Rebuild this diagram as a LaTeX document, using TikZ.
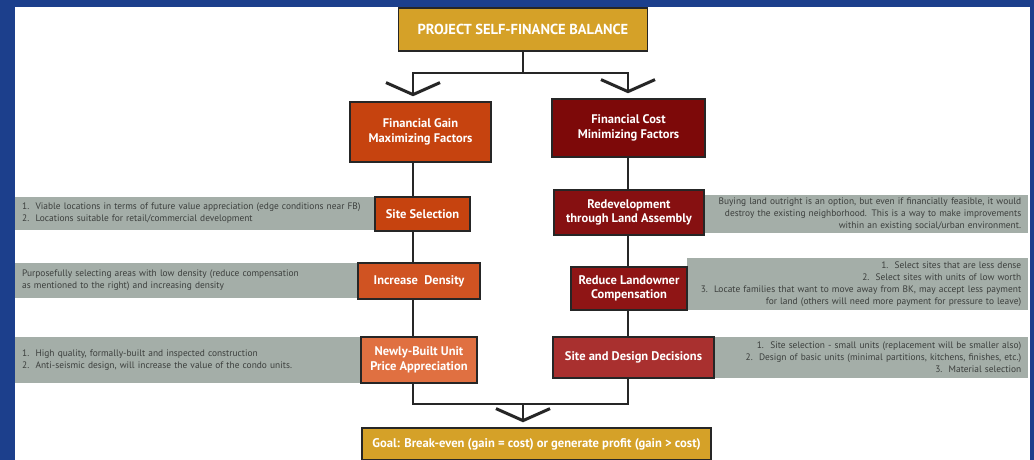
\documentclass[tikz,border=0pt]{standalone}
\usepackage{fontspec}
\setmainfont{PT Sans}
\usetikzlibrary{arrows.meta,backgrounds}
\definecolor{frameblue}{HTML}{1C3F8C}
\definecolor{gold}{HTML}{D5A128}
\definecolor{gainred}{HTML}{C6430F}
\definecolor{densityred}{HTML}{D05322}
\definecolor{unitorange}{HTML}{E07041}
\definecolor{costred}{HTML}{7D0909}
\definecolor{assemblyred}{HTML}{861011}
\definecolor{landred}{HTML}{8F1515}
\definecolor{designred}{HTML}{A9302F}
\definecolor{notegray}{HTML}{A4AEA8}
\definecolor{notetext}{HTML}{3C3F3D}
\begin{document}
\begin{tikzpicture}[x=1pt,y=-1pt,
  box/.style={draw=black!85,line width=1.5pt,text=white,align=center,inner sep=0pt,
    font=\fontsize{12.5}{14.5}\selectfont\bfseries},
  note/.style={fill=notegray,text=notetext,inner xsep=7pt,inner ysep=0pt,
    font=\fontsize{9.4}{12}\selectfont},
  conn/.style={line width=1.6pt,black!85},
  tip/.style={-{Straight Barb[length=12pt,width=54pt,line width=3pt]},shorten >=5pt}]
\useasboundingbox (0,0) rectangle (1034,460);
\begin{scope}[on background layer]
\fill[frameblue] (0,0) rectangle (1034,460);
\fill[white] (15,7) rectangle (1030,460);
\end{scope}
\node[box,fill=gold,minimum width=249pt,minimum height=43pt,font=\fontsize{14.5}{16}\selectfont\bfseries] (title) at (523,29.5) {PROJECT SELF-FINANCE BALANCE};
\node[box,fill=gainred,minimum width=141pt,minimum height=60pt] (gain) at (420.5,132) {Financial Gain\\Maximizing Factors};
\node[box,fill=costred,minimum width=153pt,minimum height=58pt] (cost) at (628.5,128) {Financial Cost\\Minimizing Factors};
\node[note,anchor=west,minimum height=33pt,text width=346pt,align=left] (sitenote) at (15,213.5) {1.\ \ Viable locations in terms of future value appreciation (edge conditions near FB)\\2.\ \ Locations suitable for retail/commercial development};
\node[box,fill=gainred,minimum width=95pt,minimum height=34pt] (sitesel) at (422.5,214) {Site Selection};
\node[note,anchor=west,minimum height=35pt,text width=329pt,align=left] (densitynote) at (15,280.5) {Purposefully selecting areas with low density (reduce compensation\\as mentioned to the right) and increasing density};
\node[box,fill=densityred,minimum width=122pt,minimum height=36pt] (density) at (419,281) {Increase~~Density};
\node[note,anchor=west,minimum height=46pt,text width=332pt,align=left] (unitnote) at (15,360) {1.\ \ High quality, formally-built and inspected construction\\2.\ \ Anti-seismic design, will increase the value of the condo units.};
\node[box,fill=unitorange,minimum width=116pt,minimum height=46pt] (newunit) at (419,360) {Newly-Built Unit\\Price Appreciation};
\node[note,anchor=west,minimum height=38pt,text width=310pt,align=right] (assemblynote) at (704,214) {Buying land outright is an option, but even if financially feasible, it would\\destroy the existing neighborhood. This is a way to make improvements\\within an existing social/urban environment.};
\node[box,fill=assemblyred,minimum width=150pt,minimum height=45pt] (assembly) at (629,212.5) {Redevelopment\\through Land Assembly};
\node[note,anchor=west,minimum height=52pt,text width=327pt,align=right] (landnote) at (687,284) {1.\ \ Select sites that are less dense\\2.\ \ Select sites with units of low worth\\3.\ \ Locate families that want to move away from BK, may accept less payment\\for land (others will need more payment for pressure to leave)};
\node[box,fill=landred,minimum width=116pt,minimum height=43pt] (land) at (629,288.5) {Reduce Landowner\\Compensation};
\node[note,anchor=west,minimum height=41pt,text width=300pt,align=right] (designnote) at (714,357.5) {1.\ \ Site selection - small units (replacement will be smaller also)\\2.\ \ Design of basic units (minimal partitions, kitchens, finishes, etc.)\\3.\ \ Material selection};
\node[box,fill=designred,minimum width=161pt,minimum height=41pt] (design) at (633.5,357.5) {Site and Design Decisions};
\node[box,fill=gold,minimum width=349pt,minimum height=32pt,font=\fontsize{12.6}{15}\selectfont\bfseries] (goal) at (536.5,444) {Goal: Break-even (gain = cost) or generate profit (gain > cost)};
\coordinate (split) at (523,73);
\coordinate (lrail) at (413,404);
\coordinate (rrail) at (628,404);
\coordinate (merge) at (523,404);
\begin{scope}[on background layer]
\draw[conn] (title.south) -- (split);
\draw[conn,tip] (split) -| (lrail |- gain.north);
\draw[conn,tip] (split) -| (rrail |- cost.north);
\draw[conn] (lrail |- gain.south) -- (lrail) -- (rrail) -- (rrail |- cost.south);
\draw[conn,tip] (merge) -- (goal.north -| merge);
\end{scope}
\end{tikzpicture}
\end{document}
